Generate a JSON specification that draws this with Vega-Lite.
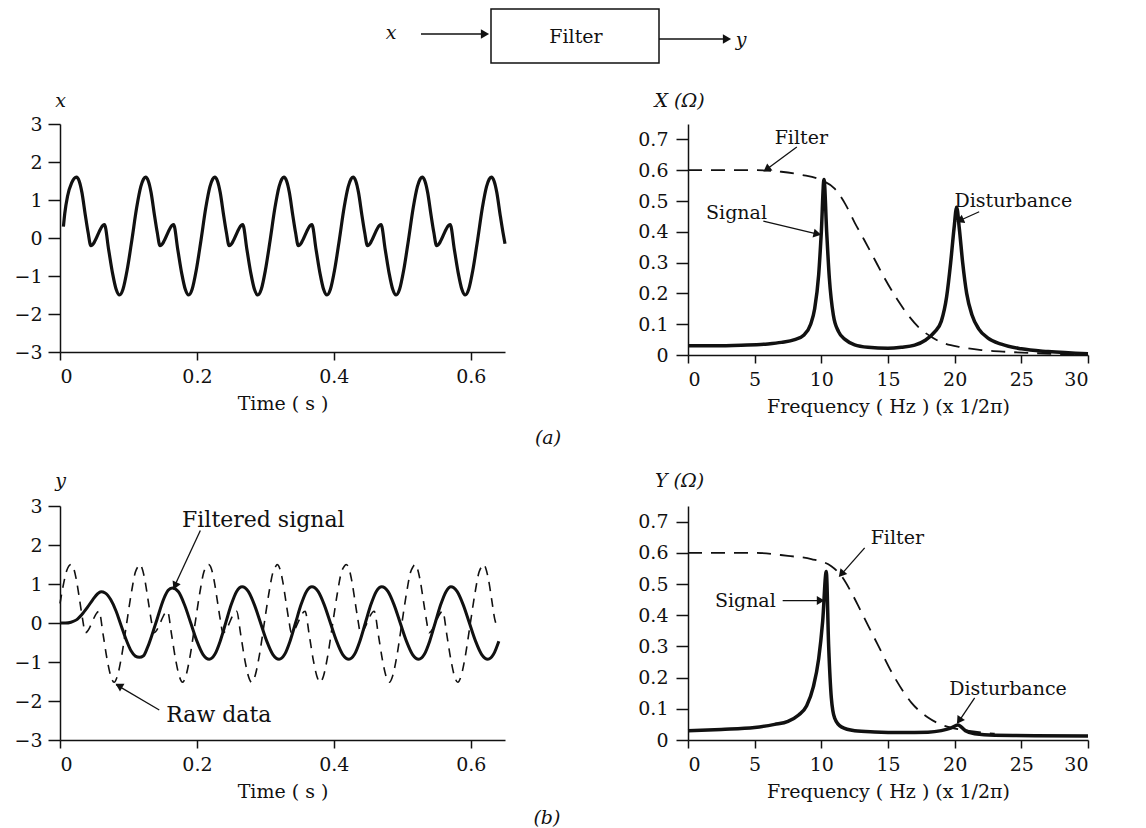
{
"$schema": "https://vega.github.io/schema/vega-lite/v6.json",
"background": "white",
"padding": {"left": 13, "top": 5, "right": 5, "bottom": 0},
"config": {
  "font": "DejaVu Serif",
  "view": {"stroke": null},
  "axis": {"grid": false, "domainColor": "#111", "tickColor": "#111", "labelColor": "#111", "titleColor": "#111", "labelFont": "DejaVu Serif", "titleFont": "DejaVu Serif", "labelFontSize": 19, "titleFontSize": 19, "titleFontWeight": "normal", "domainWidth": 1.5, "tickWidth": 1.5},
  "text": {"font": "DejaVu Serif", "fontSize": 19, "color": "#111"}
},
"datasets": {
  "x_sig": [
    {"t":0.005,"v":0.3},{"t":0.007,"v":0.65},{"t":0.011,"v":1.1},{"t":0.017,"v":1.45},{"t":0.024,"v":1.6},
    {"t":0.028,"v":1.5},{"t":0.032,"v":1.2},{"t":0.037,"v":0.6},{"t":0.041,"v":0.15},{"t":0.045,"v":-0.2},{"t":0.065,"v":0.35},{"t":0.071,"v":-0.3},{"t":0.077,"v":-0.95},{"t":0.082,"v":-1.35},{"t":0.087,"v":-1.5},{"t":0.092,"v":-1.35},{"t":0.098,"v":-0.85},{"t":0.105,"v":-0.05},{"t":0.112,"v":0.8},{"t":0.118,"v":1.35},{"t":0.122,"v":1.55},{"t":0.125,"v":1.6},
    {"t":0.129,"v":1.5},{"t":0.133,"v":1.2},{"t":0.138,"v":0.6},{"t":0.142,"v":0.15},{"t":0.146,"v":-0.2},{"t":0.166,"v":0.35},{"t":0.172,"v":-0.3},{"t":0.178,"v":-0.95},{"t":0.183,"v":-1.35},{"t":0.188,"v":-1.5},{"t":0.193,"v":-1.35},{"t":0.199,"v":-0.85},{"t":0.206,"v":-0.05},{"t":0.213,"v":0.8},{"t":0.219,"v":1.35},{"t":0.223,"v":1.55},{"t":0.226,"v":1.6},
    {"t":0.230,"v":1.5},{"t":0.234,"v":1.2},{"t":0.239,"v":0.6},{"t":0.243,"v":0.15},{"t":0.247,"v":-0.2},{"t":0.267,"v":0.35},{"t":0.273,"v":-0.3},{"t":0.279,"v":-0.95},{"t":0.284,"v":-1.35},{"t":0.289,"v":-1.5},{"t":0.294,"v":-1.35},{"t":0.300,"v":-0.85},{"t":0.307,"v":-0.05},{"t":0.314,"v":0.8},{"t":0.320,"v":1.35},{"t":0.324,"v":1.55},{"t":0.327,"v":1.6},
    {"t":0.331,"v":1.5},{"t":0.335,"v":1.2},{"t":0.340,"v":0.6},{"t":0.344,"v":0.15},{"t":0.348,"v":-0.2},{"t":0.368,"v":0.35},{"t":0.374,"v":-0.3},{"t":0.380,"v":-0.95},{"t":0.385,"v":-1.35},{"t":0.390,"v":-1.5},{"t":0.395,"v":-1.35},{"t":0.401,"v":-0.85},{"t":0.408,"v":-0.05},{"t":0.415,"v":0.8},{"t":0.421,"v":1.35},{"t":0.425,"v":1.55},{"t":0.428,"v":1.6},
    {"t":0.432,"v":1.5},{"t":0.436,"v":1.2},{"t":0.441,"v":0.6},{"t":0.445,"v":0.15},{"t":0.449,"v":-0.2},{"t":0.469,"v":0.35},{"t":0.475,"v":-0.3},{"t":0.481,"v":-0.95},{"t":0.486,"v":-1.35},{"t":0.491,"v":-1.5},{"t":0.496,"v":-1.35},{"t":0.502,"v":-0.85},{"t":0.509,"v":-0.05},{"t":0.516,"v":0.8},{"t":0.522,"v":1.35},{"t":0.526,"v":1.55},{"t":0.529,"v":1.6},
    {"t":0.533,"v":1.5},{"t":0.537,"v":1.2},{"t":0.542,"v":0.6},{"t":0.546,"v":0.15},{"t":0.550,"v":-0.2},{"t":0.570,"v":0.35},{"t":0.576,"v":-0.3},{"t":0.582,"v":-0.95},{"t":0.587,"v":-1.35},{"t":0.592,"v":-1.5},{"t":0.597,"v":-1.35},{"t":0.603,"v":-0.85},{"t":0.610,"v":-0.05},{"t":0.617,"v":0.8},{"t":0.623,"v":1.35},{"t":0.627,"v":1.55},{"t":0.630,"v":1.6},
    {"t":0.634,"v":1.5},{"t":0.638,"v":1.2},{"t":0.643,"v":0.6},{"t":0.647,"v":0.15},{"t":0.650,"v":-0.15}
  ],
  "raw": [
    {"t":0.0,"v":0.5},{"t":0.004,"v":0.9},{"t":0.010,"v":1.35},{"t":0.016,"v":1.5},
    {"t":0.020,"v":1.4},{"t":0.024,"v":1.1},{"t":0.029,"v":0.55},{"t":0.033,"v":0.1},{"t":0.037,"v":-0.25},{"t":0.057,"v":0.3},{"t":0.063,"v":-0.3},{"t":0.069,"v":-0.95},{"t":0.074,"v":-1.35},{"t":0.079,"v":-1.52},{"t":0.084,"v":-1.35},{"t":0.090,"v":-0.85},{"t":0.097,"v":-0.05},{"t":0.104,"v":0.75},{"t":0.110,"v":1.3},{"t":0.114,"v":1.45},{"t":0.116,"v":1.5},
    {"t":0.120,"v":1.4},{"t":0.124,"v":1.1},{"t":0.129,"v":0.55},{"t":0.133,"v":0.1},{"t":0.137,"v":-0.25},{"t":0.157,"v":0.3},{"t":0.163,"v":-0.3},{"t":0.169,"v":-0.95},{"t":0.174,"v":-1.35},{"t":0.179,"v":-1.52},{"t":0.184,"v":-1.35},{"t":0.190,"v":-0.85},{"t":0.197,"v":-0.05},{"t":0.204,"v":0.75},{"t":0.210,"v":1.3},{"t":0.214,"v":1.45},{"t":0.217,"v":1.5},
    {"t":0.221,"v":1.4},{"t":0.225,"v":1.1},{"t":0.230,"v":0.55},{"t":0.234,"v":0.1},{"t":0.238,"v":-0.25},{"t":0.258,"v":0.3},{"t":0.264,"v":-0.3},{"t":0.270,"v":-0.95},{"t":0.275,"v":-1.35},{"t":0.280,"v":-1.52},{"t":0.285,"v":-1.35},{"t":0.291,"v":-0.85},{"t":0.298,"v":-0.05},{"t":0.305,"v":0.75},{"t":0.311,"v":1.3},{"t":0.315,"v":1.45},{"t":0.317,"v":1.5},
    {"t":0.321,"v":1.4},{"t":0.325,"v":1.1},{"t":0.330,"v":0.55},{"t":0.334,"v":0.1},{"t":0.338,"v":-0.25},{"t":0.358,"v":0.3},{"t":0.364,"v":-0.3},{"t":0.370,"v":-0.95},{"t":0.375,"v":-1.35},{"t":0.380,"v":-1.52},{"t":0.385,"v":-1.35},{"t":0.391,"v":-0.85},{"t":0.398,"v":-0.05},{"t":0.405,"v":0.75},{"t":0.411,"v":1.3},{"t":0.415,"v":1.45},{"t":0.418,"v":1.5},
    {"t":0.422,"v":1.4},{"t":0.426,"v":1.1},{"t":0.431,"v":0.55},{"t":0.435,"v":0.1},{"t":0.439,"v":-0.25},{"t":0.459,"v":0.3},{"t":0.465,"v":-0.3},{"t":0.471,"v":-0.95},{"t":0.476,"v":-1.35},{"t":0.481,"v":-1.52},{"t":0.486,"v":-1.35},{"t":0.492,"v":-0.85},{"t":0.499,"v":-0.05},{"t":0.506,"v":0.75},{"t":0.512,"v":1.3},{"t":0.516,"v":1.45},{"t":0.518,"v":1.5},
    {"t":0.522,"v":1.4},{"t":0.526,"v":1.1},{"t":0.531,"v":0.55},{"t":0.535,"v":0.1},{"t":0.539,"v":-0.25},{"t":0.559,"v":0.3},{"t":0.565,"v":-0.3},{"t":0.571,"v":-0.95},{"t":0.576,"v":-1.35},{"t":0.581,"v":-1.52},{"t":0.586,"v":-1.35},{"t":0.592,"v":-0.85},{"t":0.599,"v":-0.05},{"t":0.606,"v":0.75},{"t":0.612,"v":1.3},{"t":0.616,"v":1.45},{"t":0.618,"v":1.5},
    {"t":0.622,"v":1.4},{"t":0.626,"v":1.1},{"t":0.631,"v":0.55},{"t":0.635,"v":0.1},{"t":0.640,"v":-0.1}
  ],
  "filtered": [
    {"t":0.0,"v":0.0},{"t":0.008,"v":0.0},{"t":0.016,"v":0.02},{"t":0.024,"v":0.08},{"t":0.032,"v":0.22},{"t":0.040,"v":0.4},{"t":0.048,"v":0.6},{"t":0.055,"v":0.75},{"t":0.060,"v":0.8},{"t":0.066,"v":0.77},{"t":0.074,"v":0.6},{"t":0.082,"v":0.3},{"t":0.088,"v":0.0},{"t":0.096,"v":-0.4},{"t":0.104,"v":-0.72},{"t":0.110,"v":-0.85},{"t":0.116,"v":-0.88},{"t":0.122,"v":-0.84},{"t":0.128,"v":-0.62},{"t":0.140,"v":0.0},{"t":0.152,"v":0.64},{"t":0.158,"v":0.84},{"t":0.164,"v":0.9},
    {"t":0.173,"v":0.8},{"t":0.182,"v":0.46},{"t":0.191,"v":0.0},{"t":0.200,"v":-0.465},{"t":0.209,"v":-0.81},{"t":0.218,"v":-0.93},
    {"t":0.226,"v":-0.81},{"t":0.234,"v":-0.465},{"t":0.242,"v":0.0},{"t":0.250,"v":0.465},{"t":0.258,"v":0.81},{"t":0.266,"v":0.93},
    {"t":0.275,"v":0.81},{"t":0.284,"v":0.465},{"t":0.293,"v":0.0},{"t":0.302,"v":-0.465},{"t":0.311,"v":-0.81},{"t":0.320,"v":-0.93},
    {"t":0.328,"v":-0.81},{"t":0.336,"v":-0.465},{"t":0.344,"v":0.0},{"t":0.352,"v":0.465},{"t":0.360,"v":0.81},{"t":0.368,"v":0.93},
    {"t":0.377,"v":0.81},{"t":0.386,"v":0.465},{"t":0.395,"v":0.0},{"t":0.404,"v":-0.465},{"t":0.413,"v":-0.81},{"t":0.422,"v":-0.93},
    {"t":0.430,"v":-0.81},{"t":0.438,"v":-0.465},{"t":0.446,"v":0.0},{"t":0.454,"v":0.465},{"t":0.462,"v":0.81},{"t":0.470,"v":0.93},
    {"t":0.479,"v":0.81},{"t":0.488,"v":0.465},{"t":0.497,"v":0.0},{"t":0.506,"v":-0.465},{"t":0.515,"v":-0.81},{"t":0.524,"v":-0.93},
    {"t":0.532,"v":-0.81},{"t":0.540,"v":-0.465},{"t":0.548,"v":0.0},{"t":0.556,"v":0.465},{"t":0.564,"v":0.81},{"t":0.571,"v":0.93},
    {"t":0.580,"v":0.81},{"t":0.589,"v":0.465},{"t":0.598,"v":0.0},{"t":0.607,"v":-0.465},{"t":0.616,"v":-0.81},{"t":0.625,"v":-0.93},
    {"t":0.633,"v":-0.81},{"t":0.641,"v":-0.465}
  ],
  "X_sig": [
    {"f":0,"v":0.03},{"f":2,"v":0.03},{"f":4,"v":0.032},{"f":6,"v":0.036},{"f":7,"v":0.041},{"f":8,"v":0.05},{"f":8.7,"v":0.065},{"f":9.2,"v":0.1},{"f":9.5,"v":0.15},{"f":9.8,"v":0.26},{"f":10.0,"v":0.4},{"f":10.2,"v":0.57},{"f":10.4,"v":0.4},{"f":10.6,"v":0.25},{"f":10.9,"v":0.13},{"f":11.3,"v":0.075},{"f":11.8,"v":0.05},{"f":12.5,"v":0.033},{"f":13.5,"v":0.025},{"f":15,"v":0.022},{"f":16,"v":0.025},{"f":17,"v":0.032},{"f":17.8,"v":0.048},{"f":18.5,"v":0.075},{"f":19,"v":0.11},{"f":19.4,"v":0.19},{"f":19.7,"v":0.3},{"f":19.95,"v":0.41},{"f":20.15,"v":0.48},{"f":20.35,"v":0.41},{"f":20.6,"v":0.3},{"f":20.9,"v":0.2},{"f":21.3,"v":0.13},{"f":21.8,"v":0.085},{"f":22.5,"v":0.055},{"f":23.5,"v":0.035},{"f":25,"v":0.02},{"f":27,"v":0.011},{"f":30,"v":0.004}
  ],
  "X_filt": [
    {"f":0,"v":0.6},{"f":5,"v":0.6},{"f":7,"v":0.595},{"f":8.5,"v":0.585},{"f":10,"v":0.568},{"f":11,"v":0.54},{"f":11.8,"v":0.49},{"f":12.5,"v":0.43},{"f":13.2,"v":0.375},{"f":14,"v":0.31},{"f":14.8,"v":0.245},{"f":15.7,"v":0.18},{"f":16.5,"v":0.13},{"f":17.3,"v":0.09},{"f":18.2,"v":0.06},{"f":19.2,"v":0.038},{"f":20.5,"v":0.025},{"f":22,"v":0.016},{"f":24,"v":0.01},{"f":26,"v":0.006},{"f":28,"v":0.003},{"f":30,"v":0.002}
  ],
  "Y_sig": [
    {"f":0,"v":0.03},{"f":2.5,"v":0.034},{"f":5,"v":0.04},{"f":6.5,"v":0.05},{"f":7.5,"v":0.06},{"f":8.3,"v":0.08},{"f":8.9,"v":0.11},{"f":9.4,"v":0.17},{"f":9.8,"v":0.26},{"f":10.1,"v":0.38},{"f":10.37,"v":0.54},{"f":10.55,"v":0.3},{"f":10.75,"v":0.135},{"f":11,"v":0.07},{"f":11.5,"v":0.042},{"f":12.5,"v":0.03},{"f":14,"v":0.026},{"f":16,"v":0.024},{"f":18,"v":0.025},{"f":19,"v":0.03},{"f":19.7,"v":0.038},{"f":20.25,"v":0.048},{"f":20.8,"v":0.03},{"f":21.5,"v":0.02},{"f":23,"v":0.015},{"f":26,"v":0.014},{"f":30,"v":0.013}
  ],
  "Y_filt": [
    {"f":0,"v":0.6},{"f":5,"v":0.6},{"f":7.5,"v":0.59},{"f":9.25,"v":0.58},{"f":10.75,"v":0.557},{"f":11.5,"v":0.526},{"f":12.25,"v":0.473},{"f":13,"v":0.41},{"f":14.25,"v":0.304},{"f":15.5,"v":0.2},{"f":16.75,"v":0.12},{"f":18,"v":0.072},{"f":19.25,"v":0.045},{"f":20.5,"v":0.033},{"f":22,"v":0.024},{"f":23,"v":0.02}
  ]
},
"spacing": 24,
"vconcat": [
  {
    "width": 700, "height": 62,
    "layer": [
      {"data": {"values": [{"x": 431, "x2": 599, "y": 4, "y2": 58}]},
       "mark": {"type": "rect", "fill": "white", "stroke": "#111", "strokeWidth": 1.5},
       "encoding": {"x": {"field": "x", "type": "quantitative", "scale": {"domain": [0, 700]}, "axis": null}, "x2": {"field": "x2"},
                    "y": {"field": "y", "type": "quantitative", "scale": {"domain": [0, 62], "reverse": true}, "axis": null}, "y2": {"field": "y2"}}},
      {"data": {"values": [{"x": 361, "x2": 426, "y": 29, "y2": 29}, {"x": 599, "x2": 667, "y": 34, "y2": 34}]},
       "mark": {"type": "rule", "color": "#111", "strokeWidth": 1.5},
       "encoding": {"x": {"field": "x", "type": "quantitative", "scale": {"domain": [0, 700]}, "axis": null}, "x2": {"field": "x2"},
                    "y": {"field": "y", "type": "quantitative", "scale": {"domain": [0, 62], "reverse": true}, "axis": null}, "y2": {"field": "y2"}}},
      {"data": {"values": [{"x": 425, "y": 29}, {"x": 667, "y": 34}]},
       "mark": {"type": "point", "shape": "triangle-right", "filled": true, "size": 90, "color": "#111", "opacity": 1},
       "encoding": {"x": {"field": "x", "type": "quantitative", "scale": {"domain": [0, 700]}, "axis": null},
                    "y": {"field": "y", "type": "quantitative", "scale": {"domain": [0, 62], "reverse": true}, "axis": null}}},
      {"data": {"values": [{"x": 331, "y": 28, "label": "x"}, {"x": 681, "y": 35, "label": "y"}]},
       "mark": {"type": "text", "fontStyle": "italic", "fontSize": 19, "align": "center", "baseline": "middle"},
       "encoding": {"x": {"field": "x", "type": "quantitative", "scale": {"domain": [0, 700]}, "axis": null},
                    "y": {"field": "y", "type": "quantitative", "scale": {"domain": [0, 62], "reverse": true}, "axis": null},
                    "text": {"field": "label"}}},
      {"data": {"values": [{"x": 516, "y": 32, "label": "Filter"}]},
       "mark": {"type": "text", "fontSize": 19, "align": "center", "baseline": "middle"},
       "encoding": {"x": {"field": "x", "type": "quantitative", "scale": {"domain": [0, 700]}, "axis": null},
                    "y": {"field": "y", "type": "quantitative", "scale": {"domain": [0, 62], "reverse": true}, "axis": null},
                    "text": {"field": "label"}}}
    ]
  },
  {
    "columns": 2,
    "align": "each",
    "spacing": {"row": 22, "column": 21},
    "concat": [
      {
        "width": 445, "height": 228,
        "data": {"name": "x_sig"},
        "mark": {"type": "line", "color": "#111", "strokeWidth": 3.2, "interpolate": "monotone"},
        "encoding": {
          "x": {"field": "t", "type": "quantitative", "scale": {"domain": [0, 0.65], "nice": false, "zero": false},
                "axis": {"values": [0, 0.2, 0.4, 0.6], "format": "~g", "title": "Time ( s )", "tickSize": 8, "labelPadding": 7, "titlePadding": 8}},
          "y": {"field": "v", "type": "quantitative", "scale": {"domain": [-3, 3], "nice": false},
                "axis": {"values": [-3, -2, -1, 0, 1, 2, 3], "format": "~g", "title": "x", "titleFontStyle": "italic", "titleAngle": 0, "titleX": 0, "titleY": -14, "titleAlign": "center", "titleBaseline": "bottom", "tickSize": 12, "labelPadding": 6}}
        }
      },
      {
        "width": 400, "height": 231,
        "encoding": {
          "x": {"field": "f", "type": "quantitative", "scale": {"domain": [0, 30], "nice": false},
                "axis": {"values": [0, 5, 10, 15, 20, 25, 30], "format": "~g", "title": "Frequency ( Hz ) (x 1/2π)", "tickSize": 8, "labelPadding": 7, "titlePadding": 8}},
          "y": {"field": "v", "type": "quantitative", "scale": {"domain": [0, 0.75], "nice": false},
                "axis": {"values": [0, 0.1, 0.2, 0.3, 0.4, 0.5, 0.6, 0.7], "format": "~g", "title": "X (Ω)", "titleFontStyle": "italic", "titleAngle": 0, "titleX": -9, "titleY": -14, "titleAlign": "center", "titleBaseline": "bottom", "tickSize": 12, "labelPadding": 8}}
        },
        "layer": [
          {"data": {"name": "X_filt"}, "mark": {"type": "line", "color": "#111", "strokeWidth": 1.8, "strokeDash": [14, 9], "interpolate": "monotone"}},
          {"data": {"name": "X_sig"}, "mark": {"type": "line", "color": "#111", "strokeWidth": 3.5, "interpolate": "monotone"}},
          {"data": {"values": [{"f": 8.5, "v": 0.705, "label": "Filter"}, {"f": 3.64, "v": 0.462, "label": "Signal"}, {"f": 24.4, "v": 0.5, "label": "Disturbance"}]},
           "mark": {"type": "text", "align": "center", "baseline": "middle"}, "encoding": {"text": {"field": "label"}}},
          {"data": {"values": [{"f": 8.16, "v": 0.675, "f2": 5.8, "v2": 0.6}, {"f": 5.65, "v": 0.435, "f2": 9.8, "v2": 0.392}, {"f": 21.84, "v": 0.465, "f2": 20.3, "v2": 0.435}]},
           "mark": {"type": "rule", "color": "#111", "strokeWidth": 1.3}, "encoding": {"x2": {"field": "f2"}, "y2": {"field": "v2"}}},
          {"data": {"values": [{"f": 5.9, "v": 0.603}]}, "mark": {"type": "point", "shape": "triangle-right", "filled": true, "size": 80, "color": "#111", "opacity": 1, "angle": 144}},
          {"data": {"values": [{"f": 9.7, "v": 0.393}]}, "mark": {"type": "point", "shape": "triangle-right", "filled": true, "size": 80, "color": "#111", "opacity": 1, "angle": 13}},
          {"data": {"values": [{"f": 20.4, "v": 0.437}]}, "mark": {"type": "point", "shape": "triangle-right", "filled": true, "size": 80, "color": "#111", "opacity": 1, "angle": 156}},
          {"data": {"values": [{"f": -10.5, "v": -0.27, "label": "(a)"}]},
           "mark": {"type": "text", "fontStyle": "italic", "align": "center", "baseline": "middle"}, "encoding": {"text": {"field": "label"}}}
        ]
      },
      {
        "width": 445, "height": 234,
        "encoding": {
          "x": {"field": "t", "type": "quantitative", "scale": {"domain": [0, 0.65], "nice": false, "zero": false},
                "axis": {"values": [0, 0.2, 0.4, 0.6], "format": "~g", "title": "Time ( s )", "tickSize": 8, "labelPadding": 7, "titlePadding": 8}},
          "y": {"field": "v", "type": "quantitative", "scale": {"domain": [-3, 3], "nice": false},
                "axis": {"values": [-3, -2, -1, 0, 1, 2, 3], "format": "~g", "title": "y", "titleFontStyle": "italic", "titleAngle": 0, "titleX": 0, "titleY": -16, "titleAlign": "center", "titleBaseline": "bottom", "tickSize": 12, "labelPadding": 6}}
        },
        "layer": [
          {"data": {"name": "raw"}, "mark": {"type": "line", "color": "#111", "strokeWidth": 1.6, "strokeDash": [9, 7], "interpolate": "monotone"}},
          {"data": {"name": "filtered"}, "mark": {"type": "line", "color": "#111", "strokeWidth": 3, "interpolate": "monotone"}},
          {"data": {"values": [{"t": 0.297, "v": 2.63, "label": "Filtered signal"}, {"t": 0.232, "v": -2.37, "label": "Raw data"}]},
           "mark": {"type": "text", "align": "center", "baseline": "middle", "fontSize": 22}, "encoding": {"text": {"field": "label"}}},
          {"data": {"values": [{"t": 0.205, "v": 2.37, "t2": 0.166, "v2": 0.9}, {"t": 0.145, "v": -2.23, "t2": 0.082, "v2": -1.58}]},
           "mark": {"type": "rule", "color": "#111", "strokeWidth": 1.3}, "encoding": {"x2": {"field": "t2"}, "y2": {"field": "v2"}}},
          {"data": {"values": [{"t": 0.168, "v": 0.95}]}, "mark": {"type": "point", "shape": "triangle-right", "filled": true, "size": 80, "color": "#111", "opacity": 1, "angle": 115}},
          {"data": {"values": [{"t": 0.086, "v": -1.61}]}, "mark": {"type": "point", "shape": "triangle-right", "filled": true, "size": 80, "color": "#111", "opacity": 1, "angle": 210}}
        ]
      },
      {
        "width": 400, "height": 234,
        "encoding": {
          "x": {"field": "f", "type": "quantitative", "scale": {"domain": [0, 30], "nice": false},
                "axis": {"values": [0, 5, 10, 15, 20, 25, 30], "format": "~g", "title": "Frequency ( Hz ) (x 1/2π)", "tickSize": 8, "labelPadding": 7, "titlePadding": 8}},
          "y": {"field": "v", "type": "quantitative", "scale": {"domain": [0, 0.75], "nice": false},
                "axis": {"values": [0, 0.1, 0.2, 0.3, 0.4, 0.5, 0.6, 0.7], "format": "~g", "title": "Y (Ω)", "titleFontStyle": "italic", "titleAngle": 0, "titleX": -9, "titleY": -16, "titleAlign": "center", "titleBaseline": "bottom", "tickSize": 12, "labelPadding": 8}}
        },
        "layer": [
          {"data": {"name": "Y_filt"}, "mark": {"type": "line", "color": "#111", "strokeWidth": 1.8, "strokeDash": [14, 9], "interpolate": "monotone"}},
          {"data": {"name": "Y_sig"}, "mark": {"type": "line", "color": "#111", "strokeWidth": 3.5, "interpolate": "monotone"}},
          {"data": {"values": [{"f": 15.7, "v": 0.647, "label": "Filter"}, {"f": 4.3, "v": 0.447, "label": "Signal"}, {"f": 24, "v": 0.162, "label": "Disturbance"}]},
           "mark": {"type": "text", "align": "center", "baseline": "middle"}, "encoding": {"text": {"field": "label"}}},
          {"data": {"values": [{"f": 13.25, "v": 0.616, "f2": 11.4, "v2": 0.526}, {"f": 7.1, "v": 0.447, "f2": 10.1, "v2": 0.447}, {"f": 21.5, "v": 0.135, "f2": 20.25, "v2": 0.056}]},
           "mark": {"type": "rule", "color": "#111", "strokeWidth": 1.3}, "encoding": {"x2": {"field": "f2"}, "y2": {"field": "v2"}}},
          {"data": {"values": [{"f": 11.5, "v": 0.532}]}, "mark": {"type": "point", "shape": "triangle-right", "filled": true, "size": 80, "color": "#111", "opacity": 1, "angle": 131}},
          {"data": {"values": [{"f": 9.95, "v": 0.447}]}, "mark": {"type": "point", "shape": "triangle-right", "filled": true, "size": 80, "color": "#111", "opacity": 1, "angle": 0}},
          {"data": {"values": [{"f": 20.33, "v": 0.062}]}, "mark": {"type": "point", "shape": "triangle-right", "filled": true, "size": 80, "color": "#111", "opacity": 1, "angle": 124}},
          {"data": {"values": [{"f": -10.58, "v": -0.25, "label": "(b)"}]},
           "mark": {"type": "text", "fontStyle": "italic", "align": "center", "baseline": "middle"}, "encoding": {"text": {"field": "label"}}}
        ]
      }
    ]
  }
]
}
